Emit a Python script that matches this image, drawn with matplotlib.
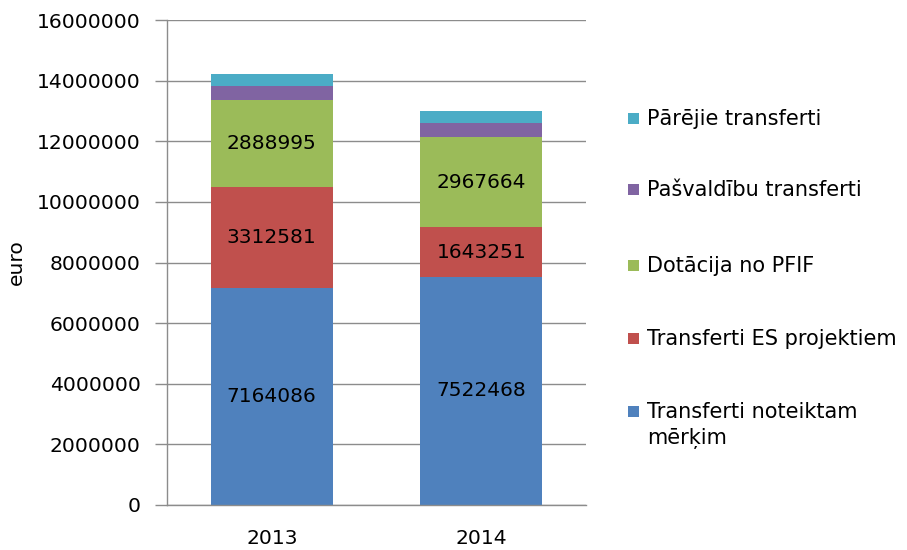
import matplotlib
matplotlib.use("Agg")
import matplotlib.pyplot as plt
from matplotlib.patches import Rectangle

years = ["2013", "2014"]
merkim = [7164086, 7522468]
es_projekti = [3312581, 1643251]
pfif = [2888995, 2967664]
pasvaldibu = [470000, 465000]
parejie = [385000, 385000]

series = [
    ("Transferti noteiktam\nmērķim", merkim, "#4F81BD", True),
    ("Transferti ES projektiem", es_projekti, "#C0504D", True),
    ("Dotācija no PFIF", pfif, "#9BBB59", True),
    ("Pašvaldību transferti", pasvaldibu, "#8064A2", False),
    ("Pārējie transferti", parejie, "#4BACC6", False),
]

plt.rcParams["font.family"] = ["DejaVu Sans"]

fig = plt.figure(figsize=(9.07, 5.5), dpi=100)
W, H = 907, 550
ax = fig.add_axes([167 / W, 1 - 505 / H, (586 - 167) / W, (505 - 20) / H])

x = range(len(years))
bottom = [0] * len(years)
for label, vals, color, show in series:
    bars = ax.bar(x, vals, width=0.58, bottom=bottom, color=color, zorder=2)
    if show:
        for b, v, base in zip(bars, vals, bottom):
            ax.text(b.get_x() + b.get_width() / 2, base + v / 2, str(v),
                    ha="center", va="center", fontsize=14.5, color="black", zorder=3)
    bottom = [b + v for b, v in zip(bottom, vals)]

ax.set_xlim(-0.5, 1.5)
ax.set_ylim(0, 16000000)
ax.set_yticks(range(0, 16000001, 2000000))
ax.set_yticklabels([str(v) for v in range(0, 16000001, 2000000)], fontsize=14.6)
ax.set_xticks(list(x))
ax.set_xticklabels(years, fontsize=14.6)
ax.tick_params(axis="x", length=0, pad=17)
ax.tick_params(axis="y", length=9, width=1, color="#8c8c8c", pad=10)
ax.grid(axis="y", color="#8c8c8c", linewidth=1, zorder=0)
ax.set_axisbelow(True)
for side in ("top", "right"):
    ax.spines[side].set_visible(False)
for side in ("left", "bottom"):
    ax.spines[side].set_color("#8c8c8c")
    ax.spines[side].set_linewidth(1)
ax.set_ylabel("euro", fontsize=14.6, labelpad=8)

# legend drawn by hand, top entry first
legend_y = [119, 190, 266, 339, 412]
for (label, vals, color, show), ly in zip(reversed(series), legend_y):
    fig.patches.append(Rectangle((628 / W, 1 - (ly + 5) / H), 11 / W, 11 / H,
                                 transform=fig.transFigure, facecolor=color,
                                 edgecolor="none"))
    fig.text(647 / W, 1 - (ly - 10) / H, label, fontsize=15, va="top",
             ha="left", linespacing=1.35)

fig.savefig("out.png", dpi=100, facecolor="white")
